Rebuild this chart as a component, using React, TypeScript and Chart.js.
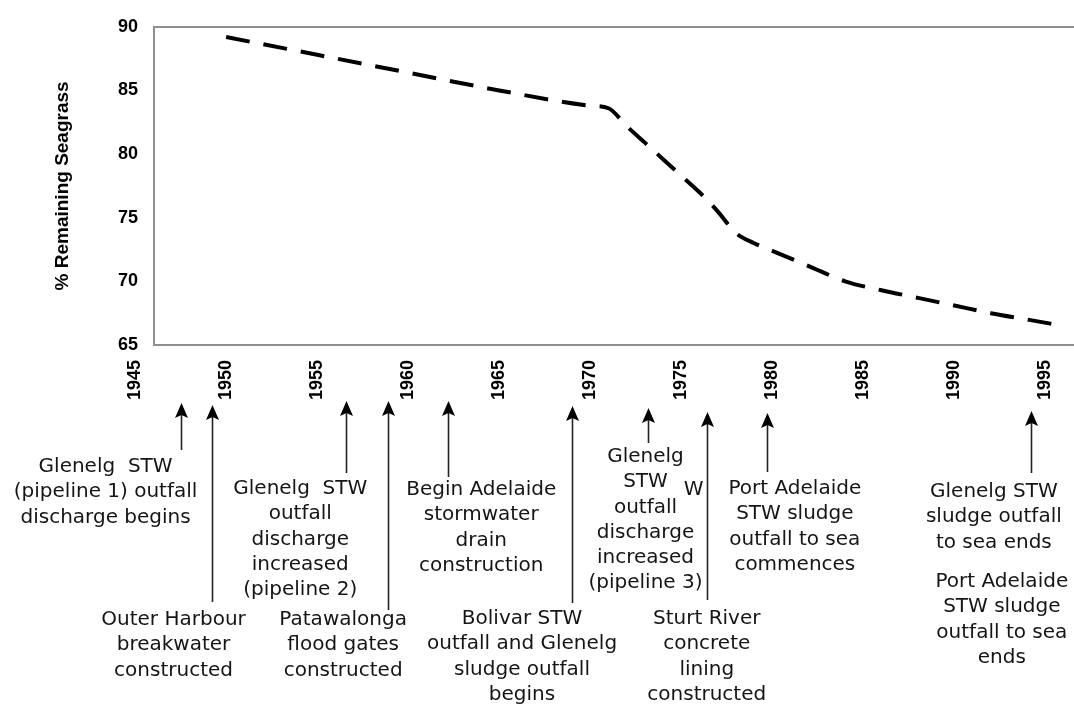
import React, { useEffect, useRef } from "react";
import { Chart, registerables } from "chart.js";

Chart.register(...registerables);

// ---- data ----
const years = [1950, 1955, 1960, 1965, 1970, 1971, 1972, 1973, 1974, 1975, 1976, 1977, 1978, 1979, 1980, 1982, 1984, 1986, 1988, 1990, 1992, 1994, 1996];
const remaining = [89.2, 87.8, 86.4, 85.0, 83.8, 83.6, 82.2, 80.9, 79.6, 78.3, 77.0, 75.5, 73.8, 73.0, 72.4, 71.2, 70.0, 69.3, 68.7, 68.1, 67.5, 67.0, 66.5];
const xTickYears = [1945, 1950, 1955, 1960, 1965, 1970, 1975, 1980, 1985, 1990, 1995];
const yTickValues = [65, 70, 75, 80, 85, 90];
const yTitle = "% Remaining Seagrass";

const eventYears = [1947.5, 1949.2, 1956.6, 1958.9, 1962.2, 1969.0, 1973.2, 1976.4, 1979.7, 1994.2];
const eventLabels = [
  ["Glenelg  STW", "(pipeline 1) outfall", "discharge begins"],
  ["Outer Harbour", "breakwater", "constructed"],
  ["Glenelg  STW", "outfall", "discharge", "increased", "(pipeline 2)"],
  ["Patawalonga", "flood gates", "constructed"],
  ["Begin Adelaide", "stormwater", "drain", "construction"],
  ["Bolivar STW", "outfall and Glenelg", "sludge outfall", "begins"],
  ["Glenelg", "STW", "outfall", "discharge", "increased", "(pipeline 3)"],
  ["Sturt River", "concrete", "lining", "constructed"],
  ["Port Adelaide", "STW sludge", "outfall to sea", "commences"],
  ["Glenelg STW", "sludge outfall", "to sea ends"],
];
const extraLabels = [
  ["Port Adelaide", "STW sludge", "outfall to sea", "ends"],
  ["W"],
];

// ---- layout (positions / styles only) ----
const arrowLayout = [
  { tip: 403, end: 450 },
  { tip: 405, end: 602 },
  { tip: 401, end: 473 },
  { tip: 401, end: 610 },
  { tip: 401, end: 477 },
  { tip: 406, end: 603 },
  { tip: 408, end: 443 },
  { tip: 412, end: 600 },
  { tip: 413, end: 472 },
  { tip: 411, end: 473 },
];
const labelLayout = [
  { dx: -75, y: 467 },
  { dx: -38, y: 620 },
  { dx: -46, y: 489 },
  { dx: -45, y: 620 },
  { dx: 33, y: 490 },
  { dx: -50, y: 619 },
  { dx: -3, y: 457 },
  { dx: 0, y: 619 },
  { dx: 28, y: 489 },
  { dx: -37, y: 492 },
];
const extraLayout = [
  { anchor: 9, dx: -29, y: 582 },
  { anchor: 7, dx: -13, y: 490 },
];
const LINE_GAP = 25.2;
const ANNOT_FONT = "20px 'DejaVu Sans'";
const AXIS_FONT_FAMILY = "'Liberation Sans', Arial, sans-serif";
const BORDER_GRAY = "#8f8f8f";

const annotationPlugin = {
  id: "eventAnnotations",
  afterDraw(chart: any) {
    const ctx = chart.ctx;
    const xs = chart.scales.x;
    ctx.save();
    // arrows
    eventYears.forEach((yr, i) => {
      const x = Math.round(xs.getPixelForValue(yr)) + 0.5;
      const { tip, end } = arrowLayout[i];
      ctx.strokeStyle = "#222";
      ctx.lineWidth = 1.6;
      ctx.beginPath();
      ctx.moveTo(x, tip + 12);
      ctx.lineTo(x, end);
      ctx.stroke();
      ctx.fillStyle = "#000";
      ctx.beginPath();
      ctx.moveTo(x, tip);
      ctx.lineTo(x + 6.5, tip + 15);
      ctx.lineTo(x, tip + 12);
      ctx.lineTo(x - 6.5, tip + 15);
      ctx.closePath();
      ctx.fill();
    });
    // labels
    ctx.font = ANNOT_FONT;
    ctx.fillStyle = "#151515";
    ctx.textAlign = "center";
    ctx.textBaseline = "middle";
    eventLabels.forEach((lines, i) => {
      const cx = xs.getPixelForValue(eventYears[i]) + labelLayout[i].dx;
      lines.forEach((t, j) => ctx.fillText(t, cx, labelLayout[i].y + j * LINE_GAP));
    });
    extraLabels.forEach((lines, i) => {
      const lay = extraLayout[i];
      const cx = xs.getPixelForValue(eventYears[lay.anchor]) + lay.dx;
      lines.forEach((t, j) => ctx.fillText(t, cx, lay.y + j * LINE_GAP));
    });
    ctx.restore();
  },
};

export default function App() {
  const canvasRef = useRef<HTMLCanvasElement | null>(null);

  useEffect(() => {
    if (!canvasRef.current) return;
    const chart = new Chart(canvasRef.current, {
      type: "line",
      data: {
        datasets: [
          {
            data: years.map((y, i) => ({ x: y, y: remaining[i] })),
            borderColor: "#000",
            borderWidth: 4,
            borderDash: [24, 14],
            borderCapStyle: "butt",
            pointRadius: 0,
            fill: false,
            cubicInterpolationMode: "monotone",
          },
        ],
      },
      options: {
        animation: false,
        responsive: true,
        maintainAspectRatio: false,
        layout: { padding: { top: 21, left: 0, right: 0, bottom: 0 } },
        plugins: { legend: { display: false }, tooltip: { enabled: false } },
        scales: {
          x: {
            type: "linear",
            min: 1946.04,
            max: 1996.85,
            afterBuildTicks: (scale: any) => {
              scale.ticks = xTickYears.map((v) => ({ value: v }));
            },
            afterFit: (scale: any) => {
              scale.height = 360;
            },
            grid: { display: false, drawTicks: false },
            border: { display: true, color: BORDER_GRAY, width: 2 },
            ticks: {
              autoSkip: false,
              minRotation: 90,
              maxRotation: 90,
              padding: 15,
              color: "#000",
              font: { family: AXIS_FONT_FAMILY, size: 18, weight: "bold" },
              callback: (v: any) => String(v),
            },
          },
          y: {
            min: 65,
            max: 90,
            afterBuildTicks: (scale: any) => {
              scale.ticks = yTickValues.map((v) => ({ value: v }));
            },
            afterFit: (scale: any) => {
              scale.width = 154;
            },
            grid: {
              drawTicks: false,
              lineWidth: 2,
              color: (c: any) => (c.tick && c.tick.value === 90 ? BORDER_GRAY : "rgba(0,0,0,0)"),
            },
            border: { display: true, color: BORDER_GRAY, width: 2 },
            ticks: {
              padding: 16,
              color: "#000",
              font: { family: AXIS_FONT_FAMILY, size: 18, weight: "bold" },
            },
            title: {
              display: true,
              text: yTitle,
              color: "#000",
              padding: { top: 51, bottom: 0 },
              font: { family: AXIS_FONT_FAMILY, size: 19, weight: "bold" },
            },
          },
        },
      },
      plugins: [annotationPlugin],
    } as any);
    return () => chart.destroy();
  }, []);

  return (
    <div style={{ position: "absolute", left: 0, top: 0, width: 1074, height: 705, overflow: "hidden", background: "#fff" }}>
      <div style={{ position: "relative", width: 1082, height: 705 }}>
        <canvas ref={canvasRef} />
      </div>
    </div>
  );
}
